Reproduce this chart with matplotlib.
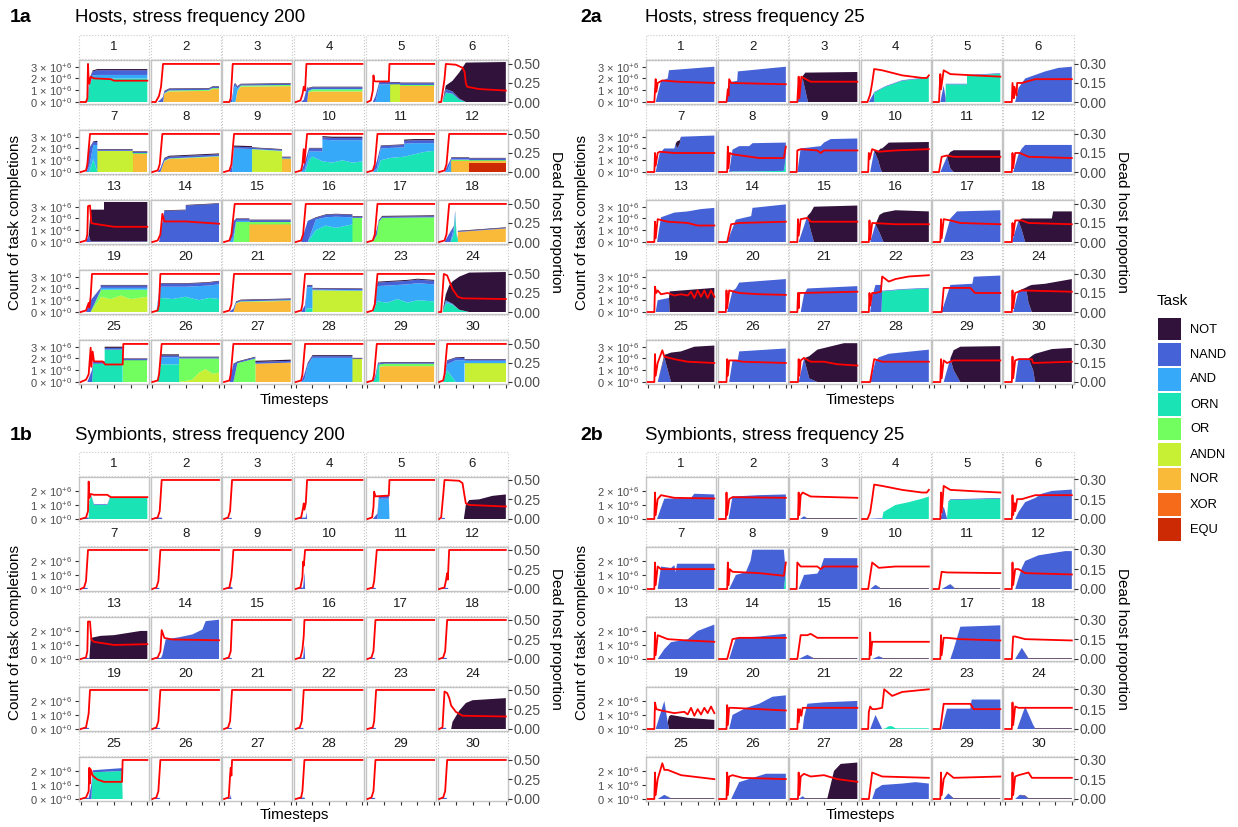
import matplotlib
matplotlib.use("Agg")
import matplotlib.pyplot as plt
from matplotlib.patches import Rectangle

plt.rcParams['font.family'] = ['Liberation Sans', 'DejaVu Sans']
plt.rcParams['mathtext.fontset'] = 'custom'
plt.rcParams['mathtext.rm'] = 'Liberation Sans'
plt.rcParams['mathtext.it'] = 'Liberation Sans:italic'
plt.rcParams['mathtext.bf'] = 'Liberation Sans:bold'

# task order as in the legend (top of stack first)
TASKS = ['NOT', 'NAND', 'AND', 'ORN', 'OR', 'ANDN', 'NOR', 'XOR', 'EQU']
COLORS = ['#30123B', '#4662D7', '#36AAF9', '#1AE4B6', '#72FE5E',
          '#C7EF34', '#FABA39', '#F66B19', '#CB2A04']


def F(rx, ry, x, **layers):
    # rx/ry: dead host proportion line, x + layers: task counts (x1e6)
    return dict(rx=rx, ry=ry, x=x, layers=layers)


# ---------------- 1a  hosts, stress frequency 200 ----------------
H200 = [
    F([0, 8, 10, 11, 12, 13, 15, 20, 45, 50, 100], [0, 0, .05, .5, .28, .24, .33, .31, .3, .28, .28],
      [0, 6, 10, 13, 18, 25, 100],
      ORN=[0, 0, 0, 1.4, 2.0, 2.0, 2.0], AND=[0, 0, 0, .1, .25, .3, .3],
      NAND=[0, 0, .2, .4, .35, .4, .4], NOT=[0, 0, 0, .05, .08, .1, .1]),
    F([0, 5, 10, 13, 16, 100], [0, 0, .08, .2, .5, .5],
      [0, 8, 12, 16, 18, 25, 85, 90, 100],
      NOR=[0, 0, 0, 0, .7, .9, .95, 1.1, 1.1], OR=[0, 0, 0, 0, .05, .08, .08, .08, .08],
      NAND=[0, 0, .2, .4, .15, .12, .1, .1, .1], NOT=[0, 0, 0, .03, .05, .05, .05, .05, .05]),
    F([0, 8, 10, 13, 100], [0, 0, .05, .5, .5],
      [0, 8, 12, 15, 17, 20, 25, 100],
      AND=[0, 0, 0, 1.2, 1.4, .2, 0, 0], NOR=[0, 0, 0, 0, 0, .9, 1.3, 1.35],
      OR=[0, 0, 0, 0, 0, .05, .1, .1], NAND=[0, 0, .3, .3, .15, .15, .1, .1],
      NOT=[0, 0, 0, .03, .05, .05, .05, .05]),
    F([0, 7, 10, 12, 14, 16, 100], [0, .02, .1, .2, .15, .5, .5],
      [0, 8, 12, 17, 19, 25, 100],
      NOR=[0, 0, 0, 0, .8, .9, .9], OR=[0, 0, 0, 0, .1, .15, .15], ORN=[0, 0, 0, 0, .05, .05, .05],
      NAND=[0, 0, .2, 1.2, .2, .15, .15], NOT=[0, 0, 0, .05, .05, .05, .05]),
    F([0, 5, 8, 9, 10, 12, 32, 33, 100], [0, .02, .15, .35, .28, .27, .27, .5, .5],
      [0, 8, 12, 18, 34, 34, 49, 49, 100],
      AND=[0, 0, 0, 1.5, 1.5, 0, 0, 0, 0], ANDN=[0, 0, 0, 0, 0, 1.5, 1.5, 0, 0],
      NOR=[0, 0, 0, 0, 0, 0, 0, 1.4, 1.4], OR=[0, 0, 0, 0, 0, 0, 0, .05, .05],
      NAND=[0, 0, .5, .2, .2, .15, .15, .15, .15], NOT=[0, 0, 0, .05, .05, .05, .05, .05, .05]),
    F([0, 3, 8, 10, 25, 35, 38, 40, 42, 60, 100], [0, 0, .3, .5, .49, .45, .4, .25, .2, .17, .15],
      [0, 5, 10, 20, 30, 40, 100],
      ORN=[0, 0, .8, .7, .2, 0, 0], NAND=[0, 0, .3, .2, .1, 0, 0],
      NOT=[0, 0, .3, .9, 2.2, 3.35, 3.4]),
    F([0, 8, 10, 14, 100], [0, .02, .1, .5, .5],
      [0, 8, 13, 19, 25, 25, 78, 78, 100],
      NAND=[0, 0, 1.5, .25, .25, .1, .1, .1, .1], AND=[0, 0, .5, 1.2, 2.3, 0, 0, 0, 0],
      ORN=[0, 0, 0, 1.1, 0, 0, 0, 0, 0], ANDN=[0, 0, 0, 0, 0, 1.75, 1.75, 0, 0],
      NOR=[0, 0, 0, 0, 0, 0, 0, 1.55, 1.55], OR=[0, 0, 0, 0, 0, .05, .05, .05, .05],
      NOT=[0, 0, .05, .05, .1, .05, .05, .05, .05]),
    F([0, 8, 11, 15, 100], [0, .02, .1, .5, .5],
      [0, 8, 12, 18, 25, 100],
      NAND=[0, 0, .3, .2, .15, .15], NOR=[0, 0, 0, .9, 1.1, 1.3],
      OR=[0, 0, 0, .05, .05, .05], NOT=[0, 0, 0, .05, .08, .08]),
    F([0, 8, 11, 15, 100], [0, .02, .1, .5, .5],
      [0, 8, 12, 15, 42, 42, 87, 87, 100],
      NAND=[0, 0, .5, .15, .15, .1, .1, .1, .1], AND=[0, 0, 0, 2.0, 1.95, 0, 0, 0, 0],
      ANDN=[0, 0, 0, 0, 0, 1.9, 1.75, 0, 0], NOR=[0, 0, 0, 0, 0, 0, 0, 1.1, 1.1],
      OR=[0, 0, 0, 0, 0, .05, .05, .05, .05], NOT=[0, 0, 0, .1, .1, .05, .05, .05, .05]),
    F([0, 8, 10, 12, 13, 17, 100], [0, .02, .1, .3, .12, .5, .5],
      [0, 8, 14, 20, 25, 40, 40, 55, 70, 85, 100],
      ORN=[0, 0, 0, 1.0, 1.3, .9, .9, .8, 1.0, .8, .9],
      AND=[0, 0, .3, .75, .45, .85, 1.85, 1.9, 1.7, 1.9, 1.8],
      NAND=[0, 0, .6, .25, .25, .25, .2, .2, .2, .2, .2],
      NOT=[0, 0, 0, .05, .05, .05, .1, .1, .1, .1, .1]),
    F([0, 8, 11, 15, 100], [0, .02, .1, .5, .5],
      [0, 8, 14, 20, 35, 55, 55, 70, 85, 100],
      ORN=[0, 0, 0, 1.0, 1.2, 1.3, 1.3, 1.5, 1.7, 1.8],
      AND=[0, 0, .3, 1.0, .85, .8, 1.1, .95, .75, .65],
      NAND=[0, 0, .6, .2, .2, .2, .25, .25, .25, .25],
      NOT=[0, 0, 0, .05, .05, .05, .1, .1, .1, .1]),
    F([0, 8, 11, 15, 100], [0, .02, .1, .5, .5],
      [0, 8, 13, 18, 18, 45, 45, 100],
      NAND=[0, 0, .4, .1, .15, .15, .15, .15], AND=[0, 0, .2, 1.0, 0, 0, 0, 0],
      NOR=[0, 0, 0, 0, .95, .95, .1, .1], EQU=[0, 0, 0, 0, 0, 0, .8, .8],
      OR=[0, 0, 0, 0, .1, .1, .1, .1], NOT=[0, 0, 0, .05, .05, .05, .05, .05]),
    F([0, 8, 10, 11, 14, 16, 20, 50, 100], [0, .02, .1, .47, .48, .25, .24, .2, .2],
      [0, 8, 12, 15, 35, 35, 100],
      NAND=[0, 0, .6, .05, .05, .05, .05], NOT=[0, 0, 0, 2.7, 2.7, 3.35, 3.35]),
    F([0, 8, 12, 15, 18, 50, 100], [0, .02, .1, .37, .27, .27, .24],
      [0, 10, 18, 50, 50, 100],
      NAND=[0, 0, 2.65, 2.7, 3.1, 3.25], NOT=[0, 0, .05, .05, .05, .05]),
    F([0, 8, 11, 16, 100], [0, .02, .1, .5, .5],
      [0, 8, 14, 18, 38, 38, 100],
      NAND=[0, 0, 1.2, .15, .15, .15, .15], AND=[0, 0, .5, .1, .1, 0, 0],
      OR=[0, 0, 0, 1.7, 1.7, .2, .2], NOR=[0, 0, 0, 0, 0, 1.5, 1.5],
      NOT=[0, 0, .05, .05, .05, .05, .05]),
    F([0, 8, 11, 15, 100], [0, .02, .1, .5, .5],
      [0, 8, 18, 30, 45, 60, 85, 85, 100],
      NAND=[0, 0, 1.8, .15, .2, .2, .2, .1, .1], ORN=[0, 0, 0, 1.0, 1.4, 1.2, 1.5, 0, 0],
      AND=[0, 0, 0, .9, .7, .95, .6, 0, 0], OR=[0, 0, 0, 0, 0, 0, 0, 2.05, 2.05],
      NOT=[0, 0, 0, .05, .05, .05, .05, .05, .05]),
    F([0, 8, 11, 15, 100], [0, .02, .1, .5, .5],
      [0, 8, 14, 17, 22, 100],
      NAND=[0, 0, .5, .1, .1, .1], OR=[0, 0, .6, 1.7, 2.05, 2.1], NOT=[0, 0, 0, .05, .07, .07]),
    F([0, 8, 11, 15, 100], [0, .02, .1, .5, .5],
      [0, 8, 17, 22, 24, 26, 28, 28, 100],
      NAND=[0, 0, .9, .1, .1, .05, 0, .05, .05], AND=[0, 0, 0, .6, .2, .1, 0, 0, 0],
      ORN=[0, 0, 0, .6, 2.3, .5, .3, 0, 0], NOR=[0, 0, 0, 0, 0, 0, 0, .85, 1.15],
      NOT=[0, 0, 0, .05, .05, .05, 0, .05, .05]),
    F([0, 8, 12, 13, 15, 17, 100], [0, .02, .12, .06, .2, .5, .5],
      [0, 8, 15, 30, 30, 45, 60, 75, 100],
      NAND=[0, 0, 1.0, .15, .2, .2, .2, .2, .2], ANDN=[0, 0, 0, 1.2, 1.3, 1.1, 1.4, 1.1, 1.3],
      OR=[0, 0, 0, .6, .6, .8, .5, .8, .6], AND=[0, 0, 0, .05, .15, .15, .15, .15, .15],
      NOT=[0, 0, 0, .05, .05, .05, .05, .05, .05]),
    F([0, 8, 10, 12, 100], [0, .02, .1, .5, .5],
      [0, 6, 12, 30, 50, 70, 85, 100],
      ORN=[0, 0, 1.2, 1.1, 1.3, 1.0, 1.2, 1.1], AND=[0, 0, .95, 1.05, .85, 1.2, 1.05, 1.25],
      NAND=[0, .05, .25, .25, .25, .25, .25, .25], NOT=[0, 0, .05, .05, .05, .05, .05, .05]),
    F([0, 8, 11, 15, 100], [0, .02, .1, .5, .5],
      [0, 8, 14, 18, 25, 100],
      NAND=[0, 0, .3, .1, .1, .1], NOR=[0, 0, 0, .7, .85, .95],
      OR=[0, 0, 0, .05, .05, .05], NOT=[0, 0, 0, .05, .05, .05]),
    F([0, 8, 10, 14, 100], [0, .02, .1, .5, .5],
      [0, 8, 14, 17, 25, 25, 100],
      NAND=[0, 0, .6, .15, .15, .1, .1], ORN=[0, 0, 0, .3, .3, 0, 0],
      AND=[0, 0, 0, 1.8, 1.8, .05, .05], ANDN=[0, 0, 0, 0, 0, 1.85, 1.8],
      NOT=[0, 0, 0, .05, .05, .05, .05]),
    F([0, 8, 11, 15, 100], [0, .02, .1, .5, .5],
      [0, 8, 15, 30, 45, 60, 75, 100],
      ORN=[0, 0, .9, .8, 1.1, .8, 1.0, .9], AND=[0, 0, 1.3, 1.45, 1.2, 1.55, 1.45, 1.45],
      NAND=[0, 0, .3, .3, .3, .3, .3, .3], NOT=[0, 0, .08, .08, .08, .08, .08, .08]),
    F([0, 3, 7, 12, 20, 28, 35, 100], [0, 0, .5, .48, .3, .2, .18, .17],
      [0, 5, 10, 15, 20, 30, 45, 100],
      ORN=[0, 0, .7, .7, .6, .2, 0, 0], AND=[0, 0, .2, .1, .1, 0, 0, 0],
      NAND=[0, 0, .1, .05, 0, 0, 0, 0], NOT=[0, 0, .5, 1.4, 1.9, 2.8, 3.35, 3.4]),
    F([0, 8, 12, 15, 16, 18, 20, 33, 37, 63, 64, 100],
      [0, .03, .1, .45, .2, .4, .27, .27, .23, .23, .5, .5],
      [0, 10, 17, 19, 36, 36, 63, 63, 100],
      NAND=[0, 0, 1.0, .15, .15, .15, .15, .1, .1], ORN=[0, 0, 0, 1.55, 1.55, 2.75, 2.75, 0, 0],
      OR=[0, 0, 0, 0, 0, 0, 0, 1.85, 1.85], NOT=[0, 0, 0, .05, .05, .1, .1, .05, .05]),
    F([0, 8, 10, 14, 100], [0, .02, .1, .5, .5],
      [0, 8, 13, 40, 40, 60, 70, 80, 90, 100],
      NAND=[0, 0, .15, .15, .1, .1, .1, .1, .1, .1], ORN=[0, 0, 1.5, 1.5, 0, 0, 0, 0, 0, 0],
      AND=[0, 0, .6, .6, 0, 0, 0, 0, 0, 0], OR=[0, 0, 0, 0, 2.0, 1.8, 1.2, .9, 1.3, 1.2],
      ANDN=[0, 0, 0, 0, 0, .2, .8, 1.1, .7, .8], NOT=[0, 0, .1, .1, .05, .05, .05, .05, .05, .05]),
    F([0, 8, 10, 14, 100], [0, .02, .1, .5, .5],
      [0, 8, 14, 20, 47, 47, 100],
      NAND=[0, 0, 1.5, .1, .1, .15, .15], OR=[0, 0, 0, 1.6, 2.0, 0, 0],
      NOR=[0, 0, 0, 0, 0, 1.55, 1.65], NOT=[0, 0, .05, .05, .05, .1, .1]),
    F([0, 8, 10, 14, 100], [0, .02, .1, .5, .5],
      [0, 8, 13, 18, 25, 85, 85, 100],
      NAND=[0, 0, .5, .2, .15, .15, .05, .05], AND=[0, 0, .2, 1.4, 2.05, 2.05, 0, 0],
      ANDN=[0, 0, 0, 0, 0, 0, 1.95, 1.95], NOT=[0, 0, 0, .05, .08, .08, .05, .05]),
    F([0, 8, 10, 14, 100], [0, .02, .1, .5, .5],
      [0, 8, 12, 16, 18, 18, 25, 100],
      NAND=[0, 0, .3, .15, .1, .1, .1, .1], ORN=[0, 0, .3, 1.5, 1.3, 0, 0, 0],
      NOR=[0, 0, 0, 0, 0, 1.3, 1.35, 1.35], OR=[0, 0, 0, 0, .1, .2, .2, .2],
      NOT=[0, 0, 0, .05, .05, .05, .05, .05]),
    F([0, 6, 8, 12, 100], [0, .02, .1, .5, .5],
      [0, 6, 12, 25, 38, 38, 100],
      NAND=[0, 0, .3, .2, .2, .1, .1], ORN=[0, 0, 1.0, 0, 0, 0, 0],
      AND=[0, 0, .5, 1.85, 1.85, .2, .2], ANDN=[0, 0, 0, 0, 0, 1.6, 1.6],
      NOT=[0, 0, .05, .05, .08, .05, .05]),
]

# ---------------- 2a  hosts, stress frequency 25 ----------------
H25 = [
    F([0, 10, 12, 13, 15, 22, 45, 100], [0, 0, .18, .08, .15, .17, .16, .15],
      [0, 12, 20, 30, 32, 100], NAND=[0, 0, 1.8, 2.0, 2.7, 3.0]),
    F([0, 11, 13, 14, 15, 18, 100], [0, 0, .1, .05, .18, .15, .14],
      [0, 11, 16, 27, 28, 100], NAND=[0, 0, 1.7, 1.8, 2.6, 3.0]),
    F([0, 10, 12, 13, 16, 30, 100], [0, 0, .2, .03, .2, .16, .16],
      [0, 10, 18, 22, 26, 100], NAND=[0, 0, 2.0, 1.0, 0, 0], NOT=[0, 0, .2, 1.5, 2.5, 2.55]),
    F([0, 8, 12, 15, 18, 30, 60, 90, 97, 100], [0, 0, .06, .15, .26, .25, .21, .19, .19, .21],
      [0, 10, 18, 18, 35, 60, 90, 100],
      NAND=[0, 0, .8, .05, .05, .05, .05, .05], ORN=[0, 0, 0, .8, 1.3, 1.8, 2.0, 2.05]),
    F([0, 8, 10, 11, 15, 25, 60, 100], [0, 0, .22, .1, .25, .22, .21, .2],
      [0, 10, 15, 18, 18, 50, 50, 100],
      NAND=[0, 0, 1.4, .3, .05, .05, .05, .05], ORN=[0, 0, 0, 0, 1.5, 1.5, 2.25, 2.4]),
    F([0, 10, 11, 13, 14, 17, 18, 25, 45, 100], [0, 0, .15, .03, .12, .05, .15, .15, .18, .18],
      [0, 15, 20, 30, 45, 60, 80, 100], NAND=[0, 0, 1.2, 2.0, 2.3, 2.6, 2.9, 3.0]),
    F([0, 10, 11, 12, 15, 18, 40, 100], [0, 0, .15, .05, .15, .16, .15, .15],
      [0, 12, 18, 25, 40, 42, 44, 48, 50, 100],
      NAND=[0, 0, 1.6, 2.0, 2.0, 2.4, 2.0, 2.4, 3.0, 3.1], NOT=[0, 0, 0, 0, 0, 0, .6, .3, 0, 0]),
    F([0, 12, 13, 14, 16, 20, 60, 97, 100], [0, 0, .2, .03, .15, .14, .11, .11, .2],
      [0, 15, 20, 30, 45, 50, 97, 100],
      ORN=[0, 0, .05, .05, .05, .05, .1, 1.2], NAND=[0, 0, 1.85, 2.15, 2.15, 2.4, 2.4, 1.3]),
    F([0, 9, 10, 15, 40, 45, 50, 100], [0, 0, .17, .18, .17, .15, .17, .17],
      [0, 10, 15, 30, 45, 50, 60, 100], NAND=[0, 0, 2.0, 2.1, 2.2, 2.5, 2.8, 2.85]),
    F([0, 9, 10, 11, 15, 25, 50, 100], [0, 0, .15, .1, .18, .16, .17, .18],
      [0, 12, 18, 24, 28, 30, 40, 100],
      NAND=[0, 0, 1.8, 1.0, .2, 0, 0, 0], NOT=[0, 0, 0, .8, 1.8, 2.0, 2.5, 2.55]),
    F([0, 8, 12, 20, 30, 100], [0, 0, .12, .13, .12, .12],
      [0, 10, 20, 25, 30, 100], NAND=[0, 0, 1.3, .3, 0, 0], NOT=[0, 0, 0, 1.4, 1.85, 1.85]),
    F([0, 10, 11, 12, 15, 22, 35, 100], [0, 0, .15, .03, .15, .15, .12, .11],
      [0, 12, 20, 25, 30, 100], NAND=[0, 0, 1.5, 2.0, 2.3, 2.3]),
    F([0, 10, 11, 12, 15, 30, 60, 75, 100], [0, 0, .16, .03, .18, .16, .15, .13, .13],
      [0, 14, 20, 40, 60, 80, 100], NAND=[0, 0, 2.1, 2.5, 2.6, 2.8, 2.9]),
    F([0, 12, 18, 30, 100], [0, 0, .14, .15, .16],
      [0, 12, 25, 48, 50, 100], NAND=[0, 0, 1.9, 2.2, 2.9, 3.2]),
    F([0, 10, 11, 12, 15, 25, 30, 100], [0, 0, .18, .05, .18, .19, .16, .16],
      [0, 12, 25, 30, 35, 100], NAND=[0, 0, 2.2, 1.0, 0, 0], NOT=[0, 0, 0, 1.5, 3.0, 3.1]),
    F([0, 10, 11, 12, 15, 50, 100], [0, 0, .17, .02, .15, .14, .14],
      [0, 12, 20, 26, 32, 50, 100],
      NAND=[0, 0, 1.5, .8, 0, 0, 0], NOT=[0, 0, 0, 1.5, 2.5, 2.7, 2.6]),
    F([0, 10, 11, 12, 15, 25, 40, 100], [0, 0, .18, .03, .18, .17, .15, .14],
      [0, 15, 25, 35, 100], NAND=[0, 0, 2.0, 2.6, 2.7]),
    F([0, 10, 11, 12, 15, 25, 35, 100], [0, 0, .15, .05, .17, .17, .15, .14],
      [0, 10, 20, 25, 30, 70, 72, 100],
      NAND=[0, 0, 1.8, 1.0, 0, 0, 0, 0], NOT=[0, 0, 0, 1.0, 2.0, 2.0, 2.6, 2.6]),
    F([0, 10, 11, 13, 15, 20, 30, 40, 50, 60, 65, 70, 75, 80, 85, 90, 95, 100],
      [0, 0, .2, .15, .17, .14, .15, .13, .14, .13, .16, .11, .17, .12, .17, .11, .17, .12],
      [0, 12, 15, 32, 33, 100], NAND=[0, 0, 1.0, 1.2, 0, 0], NOT=[0, 0, 0, 0, 1.75, 2.05]),
    F([0, 10, 11, 12, 15, 30, 60, 100], [0, 0, .17, .03, .17, .15, .14, .135],
      [0, 12, 20, 25, 30, 100], NAND=[0, 0, 1.8, 2.0, 2.5, 2.8]),
    F([0, 10, 11, 12, 13, 15, 100], [0, 0, .15, .03, .15, .15, .16],
      [0, 15, 20, 25, 100], NAND=[0, 0, 1.5, 2.0, 2.2]),
    F([0, 10, 11, 12, 15, 20, 28, 30, 40, 50, 70, 100],
      [0, 0, .15, .05, .15, .15, .16, .28, .24, .26, .28, .29],
      [0, 12, 15, 20, 29, 30, 60, 100],
      NAND=[0, 0, 1.3, 2.3, 2.3, .05, .05, .05], ORN=[0, 0, 0, 0, 0, 1.75, 1.9, 2.0]),
    F([0, 12, 15, 55, 62, 100], [0, 0, .19, .19, .15, .15],
      [0, 12, 25, 58, 60, 100], NAND=[0, 0, 2.3, 2.4, 3.0, 3.1]),
    F([0, 10, 11, 12, 15, 25, 100], [0, 0, .17, .03, .15, .17, .16],
      [0, 12, 20, 32, 35, 40, 60, 100],
      NAND=[0, 0, 1.8, 1.8, .8, 0, 0, 0], NOT=[0, 0, 0, .3, 1.4, 2.3, 2.4, 2.8]),
    F([0, 10, 11, 12, 15, 22, 25, 40, 60, 100], [0, 0, .22, .05, .15, .25, .2, .18, .16, .15],
      [0, 15, 25, 35, 50, 70, 100],
      NAND=[0, 0, 2.1, 0, 0, 0, 0], NOT=[0, 0, .2, 2.5, 2.6, 3.0, 3.1]),
    F([0, 11, 12, 13, 15, 25, 35, 100], [0, 0, .18, .05, .17, .17, .16, .15],
      [0, 15, 20, 28, 30, 100], NAND=[0, 0, 1.8, 1.9, 2.6, 2.85]),
    F([0, 11, 12, 13, 15, 20, 30, 50, 70, 100], [0, 0, .18, .05, .17, .19, .16, .16, .14, .13],
      [0, 12, 20, 28, 40, 80, 100],
      NAND=[0, 0, 2.0, .3, 0, 0, 0], NOT=[0, 0, 0, 1.9, 2.75, 3.3, 3.3]),
    F([0, 12, 18, 30, 100], [0, 0, .18, .16, .16],
      [0, 12, 20, 25, 40, 100], NAND=[0, 0, 1.8, 2.1, 2.4, 2.75]),
    F([0, 10, 11, 12, 15, 20, 30, 100], [0, 0, .18, .03, .17, .15, .17, .17],
      [0, 15, 25, 30, 40, 100], NAND=[0, 0, 2.0, 1.0, 0, 0], NOT=[0, 0, 0, 1.7, 3.0, 3.05]),
    F([0, 10, 11, 12, 15, 20, 40, 42, 100], [0, 0, .2, .03, .17, .18, .18, .15, .16],
      [0, 15, 20, 35, 42, 45, 70, 100],
      NAND=[0, 0, 2.0, 2.0, 1.0, 0, 0, 0], NOT=[0, 0, 0, 0, 1.3, 2.4, 2.8, 2.9]),
]

# ---------------- 1b  symbionts, stress frequency 200 ----------------
S200 = [
    F([0, 8, 11, 12, 13, 15, 20, 40, 45, 100], [0, .02, .1, .48, .27, .32, .31, .31, .28, .28],
      [0, 3, 5, 12, 13, 16, 20, 40, 44, 100],
      NAND=[0, 0, .1, .1, 0, .05, .05, .05, .05, .05], ORN=[0, 0, 0, 0, 1.3, 1.65, 1.0, 1.0, 1.5, 1.5]),
    F([0, 8, 11, 14, 100], [0, .02, .1, .5, .5], [0, 3, 4, 14, 15, 100], NAND=[0, 0, .1, .1, 0, 0]),
    F([0, 6, 9, 12, 100], [0, .02, .1, .5, .5], [0, 3, 4, 11, 12, 100], NAND=[0, 0, .08, .08, 0, 0]),
    F([0, 8, 10, 12, 13, 15, 17, 100], [0, .02, .1, .2, .12, .2, .5, .5],
      [0, 3, 4, 15, 16, 17, 100], NAND=[0, 0, .1, .1, .5, 0, 0]),
    F([0, 7, 9, 10, 12, 32, 33, 100], [0, .02, .15, .35, .29, .3, .5, .5],
      [0, 8, 15, 17, 32, 33, 100],
      NAND=[0, 0, .4, .2, .2, 0, 0], AND=[0, 0, 0, 1.45, 1.45, 0, 0]),
    F([0, 3, 6, 8, 30, 35, 38, 40, 45, 100], [0, .02, .3, .5, .49, .46, .3, .2, .18, .16],
      [0, 3, 4, 8, 9, 37, 40, 45, 60, 80, 100],
      NAND=[0, 0, .08, .08, 0, 0, 0, 0, 0, 0, 0], NOT=[0, 0, 0, 0, 0, 0, 1.0, 1.35, 1.4, 1.65, 1.75]),
    F([0, 5, 8, 11, 100], [0, .02, .1, .5, .5], [0, 3, 4, 10, 11, 100], NAND=[0, 0, .08, .08, 0, 0]),
    F([0, 6, 9, 12, 100], [0, .02, .1, .5, .5], [0, 3, 4, 10, 11, 100], NAND=[0, 0, .08, .08, 0, 0]),
    F([0, 8, 11, 12, 14, 100], [0, .02, .15, .25, .5, .5], [0, 3, 4, 12, 13, 100], NAND=[0, 0, .1, .15, 0, 0]),
    F([0, 7, 10, 11, 12, 14, 100], [0, .02, .15, .35, .3, .5, .5],
      [0, 3, 4, 11, 13, 14, 100], NAND=[0, 0, .1, .1, 1.2, 0, 0]),
    F([0, 8, 10, 14, 100], [0, .02, .1, .5, .5], [0, 3, 4, 12, 13, 100], NAND=[0, 0, .08, .08, 0, 0]),
    F([0, 8, 10, 12, 13, 15, 100], [0, .02, .1, .2, .12, .5, .5], [0, 3, 4, 13, 14, 100], NAND=[0, 0, .08, .08, 0, 0]),
    F([0, 8, 10, 11, 14, 16, 20, 50, 100], [0, .02, .1, .48, .48, .25, .22, .18, .19],
      [0, 3, 4, 12, 13, 15, 30, 50, 70, 90, 100],
      NAND=[0, 0, .08, .08, 0, 0, 0, 0, 0, 0, 0], NOT=[0, 0, 0, 0, 0, 1.5, 1.65, 1.7, 1.85, 2.0, 2.0]),
    F([0, 8, 12, 14, 18, 30, 100], [0, .02, .1, .37, .27, .25, .24],
      [0, 3, 4, 13, 15, 20, 40, 60, 75, 80, 100],
      NAND=[0, 0, .08, .08, .3, 1.4, 1.55, 1.75, 2.1, 2.7, 2.8]),
    F([0, 7, 10, 12, 100], [0, .02, .1, .5, .5], [0, 3, 4, 11, 12, 100], NAND=[0, 0, .08, .08, 0, 0]),
    F([0, 7, 10, 12, 13, 100], [0, .02, .12, .3, .5, .5], [0, 3, 4, 11, 13, 14, 100], NAND=[0, 0, .08, .08, 1.0, 0, 0]),
    F([0, 6, 9, 12, 100], [0, .02, .1, .5, .5], [0, 3, 4, 11, 12, 100], NAND=[0, 0, .08, .08, 0, 0]),
    F([0, 6, 9, 12, 100], [0, .02, .1, .5, .5], [0, 3, 4, 11, 12, 100], NAND=[0, 0, .08, .08, 0, 0]),
    F([0, 8, 11, 12, 14, 100], [0, .02, .15, .2, .5, .5], [0, 3, 4, 12, 13, 100], NAND=[0, 0, .08, .08, 0, 0]),
    F([0, 6, 9, 12, 100], [0, .02, .1, .5, .5], [0, 3, 4, 11, 12, 100], NAND=[0, 0, .08, .08, 0, 0]),
    F([0, 6, 9, 12, 100], [0, .02, .1, .5, .5], [0, 3, 4, 11, 12, 100], NAND=[0, 0, .08, .08, 0, 0]),
    F([0, 6, 9, 12, 100], [0, .02, .1, .5, .5], [0, 3, 4, 11, 12, 100], NAND=[0, 0, .08, .08, 0, 0]),
    F([0, 8, 10, 13, 100], [0, .02, .1, .5, .5], [0, 3, 4, 12, 13, 100], NAND=[0, 0, .08, .08, 0, 0]),
    F([0, 5, 8, 12, 15, 18, 25, 35, 100], [0, .02, .48, .46, .4, .3, .22, .17, .16],
      [0, 3, 4, 10, 11, 18, 20, 30, 40, 50, 100],
      NAND=[0, 0, .08, .08, 0, 0, 0, 0, 0, 0, 0], NOT=[0, 0, 0, 0, 0, 0, .5, 1.3, 1.85, 2.05, 2.2]),
    F([0, 8, 12, 13, 14, 15, 18, 25, 35, 62, 63, 100],
      [0, .02, .1, .4, .2, .38, .3, .25, .22, .22, .5, .5],
      [0, 3, 4, 12, 16, 18, 62, 63, 100],
      NAND=[0, 0, .08, .08, 1.0, .15, .2, 0, 0], ORN=[0, 0, 0, 0, 0, 1.9, 2.0, 0, 0]),
    F([0, 6, 9, 12, 100], [0, .02, .1, .5, .5], [0, 3, 4, 11, 12, 100], NAND=[0, 0, .08, .08, 0, 0]),
    F([0, 7, 9, 10, 11, 12, 100], [0, .02, .3, .4, .3, .5, .5], [0, 3, 4, 9, 10, 11, 100], NAND=[0, 0, .08, .08, .3, 0, 0]),
    F([0, 8, 10, 13, 100], [0, .02, .1, .5, .5], [0, 3, 4, 13, 14, 100], NAND=[0, 0, .1, .1, 0, 0]),
    F([0, 6, 9, 12, 100], [0, .02, .1, .5, .5], [0, 3, 4, 11, 12, 100], NAND=[0, 0, .08, .08, 0, 0]),
    F([0, 6, 9, 12, 100], [0, .02, .1, .5, .5], [0, 3, 4, 11, 12, 100], NAND=[0, 0, .08, .08, 0, 0]),
]

# ---------------- 2b  symbionts, stress frequency 25 ----------------
S25 = [
    F([0, 10, 11, 12, 15, 20, 40, 100], [0, 0, .2, .03, .15, .18, .16, .155],
      [0, 14, 25, 65, 70, 100], NAND=[0, 0, 1.45, 1.5, 1.8, 1.75]),
    F([0, 10, 11, 12, 15, 20, 100], [0, 0, .2, .03, .15, .165, .16],
      [0, 14, 20, 60, 100], NAND=[0, 0, 1.6, 1.7, 1.75]),
    F([0, 11, 12, 13, 15, 18, 30, 100], [0, 0, .2, .03, .18, .2, .17, .16],
      [0, 14, 20, 25, 26, 100], NAND=[0, 0, .2, 0, 0, 0], NOT=[0, 0, 0, .05, .05, .05]),
    F([0, 8, 12, 15, 18, 30, 60, 90, 97, 100], [0, 0, .05, .15, .26, .25, .22, .2, .2, .22],
      [0, 5, 25, 30, 32, 50, 70, 90, 100],
      NAND=[0, 0, .05, .05, 0, 0, 0, 0, 0], ORN=[0, 0, 0, 0, .5, 1.0, 1.2, 1.45, 1.6]),
    F([0, 10, 11, 12, 15, 25, 60, 100], [0, 0, .2, .05, .25, .22, .21, .2],
      [0, 10, 15, 20, 22, 25, 100],
      NAND=[0, 0, .9, .05, .05, .05, .05], ORN=[0, 0, 0, 0, 1.2, 1.35, 1.45]),
    F([0, 10, 11, 12, 14, 15, 18, 25, 45, 100], [0, 0, .18, .03, .12, .06, .15, .15, .18, .18],
      [0, 15, 20, 30, 45, 55, 70, 100], NAND=[0, 0, .5, 1.2, 1.5, 1.8, 2.0, 2.1]),
    F([0, 10, 11, 12, 15, 20, 100], [0, 0, .2, .03, .17, .15, .15],
      [0, 15, 20, 35, 40, 42, 44, 100], NAND=[0, 0, 1.6, 1.5, 1.7, 1.2, 1.8, 1.8]),
    F([0, 12, 13, 14, 16, 20, 60, 97, 100], [0, 0, .2, .03, .15, .13, .12, .1, .2],
      [0, 15, 25, 40, 47, 50, 97, 100],
      NAND=[0, 0, 1.0, 1.2, 2.0, 2.8, 2.8, 0], ORN=[0, 0, 0, 0, 0, 0, 0, 1.2]),
    F([0, 9, 10, 15, 40, 45, 50, 100], [0, 0, .2, .17, .17, .15, .17, .17],
      [0, 12, 20, 40, 45, 50, 100], NAND=[0, 0, 1.0, 1.1, 1.5, 2.2, 2.2]),
    F([0, 9, 12, 15, 25, 50, 100], [0, 0, .1, .2, .16, .17, .17],
      [0, 12, 20, 28, 30, 100], NAND=[0, 0, .3, 0, 0, 0], NOT=[0, 0, 0, .05, .05, .05]),
    F([0, 8, 12, 20, 100], [0, 0, .13, .125, .12],
      [0, 12, 25, 32, 35, 100], NAND=[0, 0, .35, 0, 0, 0], NOT=[0, 0, 0, .05, .05, .05]),
    F([0, 10, 11, 12, 15, 20, 30, 100], [0, 0, .2, .03, .15, .15, .12, .11],
      [0, 15, 25, 30, 50, 90, 100], NAND=[0, 0, 1.5, 2.0, 2.4, 2.7, 2.7]),
    F([0, 10, 11, 12, 15, 30, 60, 100], [0, 0, .2, .03, .18, .15, .14, .13],
      [0, 15, 25, 35, 60, 75, 100], NAND=[0, 0, .7, 1.2, 1.4, 2.0, 2.45]),
    F([0, 12, 20, 30, 100], [0, 0, .15, .16, .16],
      [0, 15, 25, 60, 100], NAND=[0, 0, 1.5, 1.6, 1.8]),
    F([0, 10, 15, 25, 30, 40, 100], [0, 0, .18, .18, .19, .16, .16],
      [0, 12, 25, 35, 40, 100], NAND=[0, 0, .3, 0, 0, 0], NOT=[0, 0, 0, .05, .05, .05]),
    F([0, 11, 12, 13, 15, 20, 100], [0, 0, .2, .03, .13, .13, .13],
      [0, 15, 25, 32, 35, 100], NAND=[0, 0, .2, 0, 0, 0], NOT=[0, 0, 0, .05, .05, .05]),
    F([0, 10, 11, 12, 15, 20, 40, 100], [0, 0, .18, .03, .16, .16, .15, .14],
      [0, 25, 30, 40, 100], NAND=[0, 0, .7, 2.3, 2.4]),
    F([0, 10, 12, 15, 30, 100], [0, 0, .17, .17, .15, .14],
      [0, 15, 25, 35, 100], NAND=[0, 0, .8, 0, 0], NOT=[0, 0, 0, .05, .05]),
    F([0, 10, 11, 13, 20, 40, 55, 60, 65, 70, 75, 80, 85, 90, 95, 100],
      [0, 0, .2, .15, .14, .12, .13, .11, .16, .1, .15, .11, .16, .12, .17, .12],
      [0, 12, 25, 30, 32, 35, 60, 100],
      NAND=[0, 0, 2.0, .5, 0, 0, 0, 0], NOT=[0, 0, 0, 0, .9, 1.0, .8, .65]),
    F([0, 11, 12, 13, 15, 20, 60, 100], [0, 0, .18, .03, .16, .16, .15, .14],
      [0, 15, 20, 40, 60, 80, 100], NAND=[0, 0, 1.0, 1.5, 1.8, 2.3, 2.4]),
    F([0, 10, 11, 12, 14, 16, 18, 100], [0, 0, .15, .05, .15, .1, .16, .16],
      [0, 18, 20, 25, 50, 100], NAND=[0, 0, .8, 1.8, 1.9, 2.0]),
    F([0, 9, 10, 12, 15, 20, 30, 33, 45, 60, 80, 100],
      [0, 0, .13, .17, .15, .15, .16, .3, .25, .28, .29, .3],
      [0, 12, 20, 30, 35, 40, 45, 50, 55, 100],
      NAND=[0, 0, 1.0, 0, 0, 0, 0, 0, 0, 0], ORN=[0, 0, 0, 0, .05, .2, .2, .05, .05, .05]),
    F([0, 10, 15, 55, 60, 100], [0, 0, .19, .19, .15, .15],
      [0, 12, 20, 55, 57, 100], NAND=[0, 0, 1.45, 1.45, 2.1, 2.1]),
    F([0, 10, 11, 12, 15, 20, 100], [0, 0, .2, .03, .17, .16, .16],
      [0, 18, 30, 42, 45, 100], NAND=[0, 0, 1.6, .3, 0, 0], NOT=[0, 0, 0, 0, .05, .05]),
    F([0, 10, 11, 12, 15, 22, 25, 30, 50, 100], [0, 0, .2, .03, .15, .27, .22, .22, .18, .15],
      [0, 15, 25, 35, 100], NAND=[0, 0, .3, 0, 0], NOT=[0, 0, 0, .05, .05]),
    F([0, 11, 12, 13, 15, 20, 35, 100], [0, 0, .2, .03, .17, .18, .16, .15],
      [0, 18, 30, 50, 70, 100], NAND=[0, 0, 1.2, 1.5, 1.8, 1.8]),
    F([0, 11, 12, 13, 15, 20, 30, 50, 70, 100], [0, 0, .2, .03, .17, .19, .17, .18, .15, .13],
      [0, 12, 18, 22, 55, 65, 75, 100],
      NAND=[0, 0, .2, 0, 0, 0, 0, 0], NOT=[0, 0, 0, .05, .05, 2.0, 2.5, 2.6]),
    F([0, 10, 15, 30, 100], [0, 0, .2, .17, .16],
      [0, 15, 20, 30, 60, 80, 100], NAND=[0, 0, .7, 1.0, 1.1, 1.2, 1.1]),
    F([0, 10, 11, 12, 15, 20, 30, 100], [0, 0, .2, .03, .15, .2, .16, .17],
      [0, 15, 22, 30, 35, 100], NAND=[0, 0, .4, 0, 0, 0], NOT=[0, 0, 0, .05, .05, .05]),
    F([0, 10, 11, 12, 15, 20, 35, 40, 100], [0, 0, .2, .03, .17, .18, .2, .16, .16],
      [0, 15, 22, 30, 35, 100], NAND=[0, 0, .3, .2, 0, 0], NOT=[0, 0, 0, .05, .05, .05]),
]

W, H = 1238, 827
fig = plt.figure(figsize=(W / 100, H / 100), dpi=100)


def box(l, t, w, h):
    return [l / W, 1 - (t + h) / H, w / W, h / H]


def sci(v):
    if v == 0:
        return r'$0\,\times\,10^{+0}$'
    return r'$%d\,\times\,10^{+6}$' % v


def draw_panel(facets, left, top, pitch, ymax, k, yt, rt, rtl):
    for i, f in enumerate(facets):
        row, col = divmod(i, 6)
        l = left + col * pitch
        t = top + row * 70
        ax = fig.add_axes(box(l, t, 70, 44))
        names = [n for n in TASKS[::-1] if n in f['layers']]
        ax.stackplot(f['x'], *[f['layers'][n] for n in names],
                     colors=[COLORS[TASKS.index(n)] for n in names], lw=0)
        ax.set_xlim(-2.5, 102.5)
        ax.set_ylim(-0.05 * ymax, 1.05 * ymax)
        ax.set_xticks([0, 25, 50, 75, 100])
        ax.set_yticks(yt)
        ax.tick_params(axis='x', labelbottom=False, length=3 if row == 4 else 0,
                       color='#333333', width=0.8)
        if col == 0:
            ax.set_yticklabels([sci(v) for v in yt])
            ax.tick_params(axis='y', labelsize=8, labelcolor='#4D4D4D',
                           color='#333333', length=3, width=0.8, pad=1.5)
        else:
            ax.tick_params(axis='y', labelleft=False, length=0)
        for s in ax.spines.values():
            s.set_color('#C4C4C4')
            s.set_linewidth(1.0)

        ax2 = ax.twinx()
        ax2.plot(f['rx'], f['ry'], color='red', lw=1.3)
        ax2.set_ylim(-0.05 * ymax / k, 1.05 * ymax / k)
        ax2.set_yticks(rt)
        if col == 5:
            ax2.set_yticklabels(rtl)
            ax2.tick_params(axis='y', labelsize=10, labelcolor='#4D4D4D',
                            color='#333333', length=3, width=0.8, pad=1.5)
        else:
            ax2.tick_params(axis='y', labelright=False, length=0)
        for s in ax2.spines.values():
            s.set_visible(False)

        # facet strip
        fig.add_artist(Rectangle((l / W, 1 - (t - 1) / H), 70 / W, 24 / H,
                                 transform=fig.transFigure, fill=False,
                                 ls=':', ec='#C8C8C8', lw=0.8))
        fig.text((l + 35) / W, 1 - (t - 13) / H, str(i + 1), ha='center',
                 va='center', fontsize=9.5, color='#1A1A1A')


draw_panel(H200, 79, 60, 71.7, 3.4, 6.47, [0, 1, 2, 3], [0, .25, .5], ['0.00', '0.25', '0.50'])
draw_panel(H25, 646, 60, 71.5, 3.4, 10.78, [0, 1, 2, 3], [0, .15, .3], ['0.00', '0.15', '0.30'])
draw_panel(S200, 79, 477, 71.7, 2.85, 5.56, [0, 1, 2], [0, .25, .5], ['0.00', '0.25', '0.50'])
draw_panel(S25, 646, 477, 71.5, 2.85, 9.43, [0, 1, 2], [0, .15, .3], ['0.00', '0.15', '0.30'])

# panel titles and axis titles
for tag, title, x0, y0 in [('1a', 'Hosts, stress frequency 200', 10, 18),
                           ('2a', 'Hosts, stress frequency 25', 580, 18),
                           ('1b', 'Symbionts, stress frequency 200', 10, 435),
                           ('2b', 'Symbionts, stress frequency 25', 580, 435)]:
    fig.text(x0 / W, 1 - y0 / H, tag, fontsize=14, fontweight='bold', va='center')
    fig.text((x0 + 65) / W, 1 - y0 / H, title, fontsize=13.4, va='center')

for xl, xr, ty, cy, cy2 in [(15, 556, 400, 222, 222), (582, 1122, 400, 222, 222),
                            (15, 556, 815, 632, 639), (582, 1122, 815, 632, 639)]:
    fig.text(xl / W, 1 - cy / H, 'Count of task completions', rotation=90,
             ha='center', va='center', fontsize=11)
    fig.text(xr / W, 1 - cy2 / H, 'Dead host proportion', rotation=270,
             ha='center', va='center', fontsize=11)
    cx = 294 if xl < 100 else 860
    fig.text(cx / W, 1 - ty / H, 'Timesteps', ha='center', va='center', fontsize=11)

# legend
fig.text(1157 / W, 1 - 301 / H, 'Task', fontsize=11, va='center')
for j, (name, c) in enumerate(zip(TASKS, COLORS)):
    ty = 318 + 25 * j
    fig.add_artist(Rectangle((1158 / W, 1 - (ty + 22.5) / H), 23 / W, 22.5 / H,
                             transform=fig.transFigure, fc=c, ec='none'))
    fig.text(1190 / W, 1 - (ty + 11.5) / H, name, fontsize=9.3, va='center')

fig.savefig('out.png', dpi=100)
